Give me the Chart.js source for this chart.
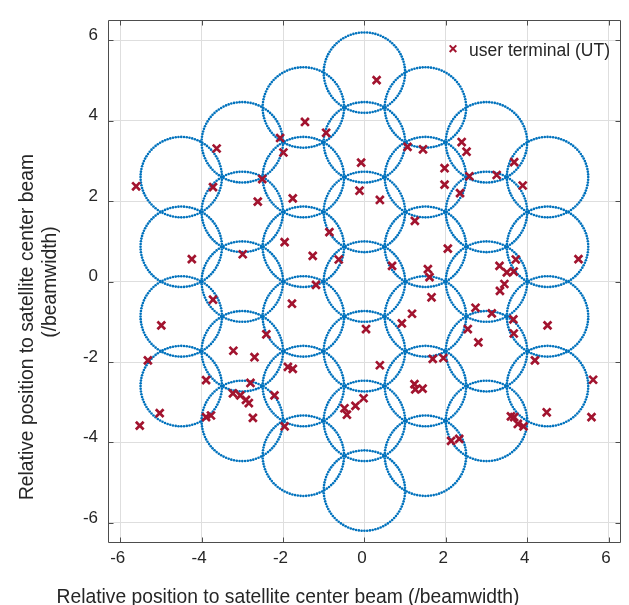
<!DOCTYPE html>
<html>
<head>
<meta charset="utf-8">
<script src="https://cdn.jsdelivr.net/npm/chart.js@4/dist/chart.umd.min.js"></script>
<style>
html,body{margin:0;padding:0;background:#fff;}
canvas{display:block;}
</style>
</head>
<body>
<canvas id="c" width="629" height="605"></canvas>
<script>
// ---- data ----
const xTicks = [-6, -4, -2, 0, 2, 4, 6];
const yTicks = [-6, -4, -2, 0, 2, 4, 6];

// beam centres (hexagonal layout of 37 beams), beam radius in beamwidth units
const beamX = [0,0,0,0,0,0,0,
  1.5,1.5,1.5,1.5,1.5,1.5, -1.5,-1.5,-1.5,-1.5,-1.5,-1.5,
  3,3,3,3,3, -3,-3,-3,-3,-3,
  4.5,4.5,4.5,4.5, -4.5,-4.5,-4.5,-4.5];
const beamY = [-5.196,-3.464,-1.732,0,1.732,3.464,5.196,
  -4.33,-2.598,-0.866,0.866,2.598,4.33, -4.33,-2.598,-0.866,0.866,2.598,4.33,
  -3.464,-1.732,0,1.732,3.464, -3.464,-1.732,0,1.732,3.464,
  -2.598,-0.866,0.866,2.598, -2.598,-0.866,0.866,2.598];
const beamRadius = 1;
const beamDotCount = 92;

// user terminal positions
const utX = [-3.63,-5.61,-3.72,-2.51,-2.07,0.30,-1.46,-0.94,-1.99,-0.08,
  1.06,1.44,1.97,1.97,-0.12,2.39,2.51,3.68,2.58,3.25,
  3.89,2.35,-2.62,-4.24,-2.99,-3.72,-4.99,-2.41,-3.22,-2.70,
  -5.32,-1.76,0.38,1.24,-0.86,-1.96,-1.27,-0.63,0.68,1.56,
  1.60,2.05,-1.19,1.65,-1.78,1.17,0.92,0.04,1.68,1.94,
  5.26,3.32,3.72,3.50,3.67,3.44,3.33,2.73,3.13,3.66,
  4.50,2.54,3.67,2.80,4.19,-3.89,-2.80,-3.23,-3.05,-2.91,
  -2.84,-2.21,-5.03,-3.77,-3.89,-2.74,-5.52,-1.88,-1.76,0.38,
  1.23,1.25,1.43,-0.02,-0.22,-0.49,-0.43,-1.96,5.62,4.48,
  5.58,3.60,3.68,3.77,3.91,2.13,2.33];
const utY = [3.31,2.37,2.35,2.55,3.57,5.01,3.97,3.70,3.21,2.96,
  3.35,3.29,2.82,2.41,2.26,3.47,3.23,2.97,2.62,2.65,
  2.39,2.20,1.99,0.56,0.68,-0.45,-1.09,-1.31,-1.72,-1.88,
  -1.96,2.07,2.03,1.51,1.23,0.98,0.64,0.55,0.39,0.31,
  0.11,0.82,-0.08,-0.39,-0.55,-0.80,-1.04,-1.18,-1.92,-1.90,
  0.56,0.39,0.55,0.23,0.25,-0.06,-0.23,-0.65,-0.79,-0.94,
  -1.09,-1.18,-1.29,-1.51,-1.96,-2.45,-2.52,-2.78,-2.83,-2.94,
  -3.02,-2.83,-3.27,-3.33,-3.37,-3.39,-3.58,-2.12,-2.17,-2.08,
  -2.55,-2.68,-2.66,-2.90,-3.09,-3.15,-3.31,-3.60,-2.44,-3.25,
  -3.37,-3.35,-3.37,-3.54,-3.60,-3.96,-3.91];

const legendLabel = 'user terminal (UT)';
const xTitle = 'Relative position to satellite center beam (/beamwidth)';
const yTitleLines = ['Relative position to satellite center beam', '(/beamwidth)'];

// ---- build datasets ----
const utPoints = utX.map((x, i) => ({x: x, y: utY[i]}));
const beamPoints = [];
beamX.forEach((cx, b) => {
  const cy = beamY[b];
  for (let k = 0; k < beamDotCount; k++) {
    const t = 2 * Math.PI * k / beamDotCount;
    beamPoints.push({x: cx + beamRadius * Math.cos(t), y: cy + beamRadius * Math.sin(t)});
  }
});

const FONT = "'Liberation Sans', Arial, Helvetica, sans-serif";
const TXT = '#262626';
const RED = '#A2142F';
const BLUE = '#0072BD';

const framePlugin = {
  id: 'frame',
  beforeDatasetsDraw(chart) {
    const {ctx, chartArea: a, scales} = chart;
    ctx.save();
    ctx.strokeStyle = '#4d4d4d';
    ctx.lineWidth = 1;
    const L = Math.round(a.left) + 0.5, R = Math.round(a.right) - 0.5;
    const T = Math.round(a.top) + 0.5, B = Math.round(a.bottom) - 0.5;
    ctx.beginPath();
    ctx.rect(L, T, R - L, B - T);
    const tl = 5;
    xTicks.forEach(v => {
      const p = Math.round(scales.x.getPixelForValue(v)) + 0.5;
      ctx.moveTo(p, B); ctx.lineTo(p, B - tl);
      ctx.moveTo(p, T); ctx.lineTo(p, T + tl);
    });
    yTicks.forEach(v => {
      const p = Math.round(scales.y.getPixelForValue(v)) + 0.5;
      ctx.moveTo(L, p); ctx.lineTo(L + tl, p);
      ctx.moveTo(R, p); ctx.lineTo(R - tl, p);
    });
    ctx.stroke();
    ctx.restore();
  },
  afterDraw(chart) {
    const {ctx} = chart;
    ctx.save();
    // legend
    const ds = chart.data.datasets[0];
    const mx = 453, my = 48.7, h = 3.3;
    ctx.strokeStyle = ds.borderColor;
    ctx.lineWidth = 2;
    ctx.beginPath();
    ctx.moveTo(mx - h, my - h); ctx.lineTo(mx + h, my + h);
    ctx.moveTo(mx + h, my - h); ctx.lineTo(mx - h, my + h);
    ctx.stroke();
    ctx.fillStyle = TXT;
    ctx.font = '17.5px ' + FONT;
    ctx.textAlign = 'left';
    ctx.textBaseline = 'alphabetic';
    ctx.fillText(ds.label, 469, 55.5);
    // x title
    ctx.font = '19.3px ' + FONT;
    ctx.textAlign = 'center';
    ctx.fillText(xTitle, 288, 602.5);
    // y title
    const ycent = [327, 282];
    const ybase = [33, 55.5];
    yTitleLines.forEach((t, i) => {
      ctx.save();
      ctx.translate(ybase[i], ycent[i]);
      ctx.rotate(-Math.PI / 2);
      ctx.fillText(t, 0, 0);
      ctx.restore();
    });
    ctx.restore();
  }
};

new Chart(document.getElementById('c'), {
  type: 'scatter',
  data: {
    datasets: [
      {label: legendLabel, data: utPoints, pointStyle: 'crossRot', pointRadius: 5.5,
       borderColor: RED, backgroundColor: RED, borderWidth: 2.7, pointHoverRadius: 5.5},
      {label: 'beams', data: beamPoints, pointStyle: 'circle', pointRadius: 1.3,
       borderWidth: 0, backgroundColor: BLUE, borderColor: BLUE}
    ]
  },
  options: {
    responsive: false,
    animation: false,
    events: [],
    layout: {padding: {top: 14, right: 8, left: 0, bottom: 0}},
    plugins: {legend: {display: false}, tooltip: {enabled: false}},
    scales: {
      x: {
        type: 'linear', min: -6.3, max: 6.3,
        afterBuildTicks: s => { s.ticks = xTicks.map(v => ({value: v})); },
        afterFit: s => { s.height = 62; },
        grid: {color: '#dedede', drawTicks: false, lineWidth: 1},
        border: {display: false},
        ticks: {font: {family: FONT, size: 17}, color: TXT, padding: 5, labelOffset: -2.5, maxRotation: 0}
      },
      y: {
        type: 'linear', min: -6.5, max: 6.5,
        afterBuildTicks: s => { s.ticks = yTicks.map(v => ({value: v})); },
        afterFit: s => { s.width = 108; },
        grid: {color: '#dedede', drawTicks: false, lineWidth: 1},
        border: {display: false},
        ticks: {font: {family: FONT, size: 17}, color: TXT, padding: 10, labelOffset: -5}
      }
    }
  },
  plugins: [framePlugin]
});
</script>
</body>
</html>
